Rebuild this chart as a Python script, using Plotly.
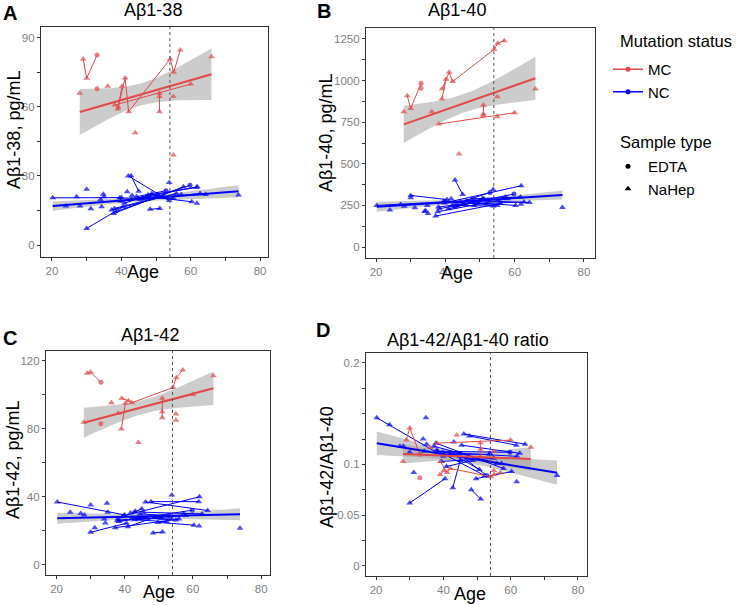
import numpy as np
import plotly.graph_objects as go

# ---------------- data ----------------
# Mutation carriers (MC)
mc_age = [29.0, 30.0, 33.0, 33.0, 28.0, 36.1, 38.1, 60.0, 39.0, 40.2, 39.1, 41.1, 42.1, 54.1, 55.1, 57.0,
          44.0, 51.0, 51.0, 51.0, 55.0, 55.0, 66.0]
mc_id = [1, 1, 1, 2, 3, 4, 5, 5, 6, 6, 7, 7, 7, 7, 7, 7, 8, 9, 9, 9, 10, 11, 12]
mc_type = ["NaHep", "NaHep", "EDTA", "EDTA", "NaHep", "NaHep", "NaHep", "NaHep", "NaHep", "NaHep", "NaHep",
           "NaHep", "NaHep", "NaHep", "NaHep", "NaHep", "NaHep", "NaHep", "NaHep", "NaHep", "NaHep", "NaHep", "NaHep"]
mc_ab38 = [80.8, 72.4, 82.5, 67.9, 65.9, 69.0, 60.8, 69.9, 59.1, 69.0, 60.0, 72.6, 57.9, 80.8, 75.0, 84.7,
           48.8, 65.9, 64.5, 57.9, 64.5, 39.1, 81.8]
mc_ab40 = [909, 833, 984, 954, 813, 813, 739, 807, 889, 1008, 951, 1050, 994, 1188, 1224, 1240,
           559, 799, 790, 853, 783, 903, 950]
mc_ab42 = [112.6, 113.2, 107.3, 83.0, 83.8, 95.3, 89.1, 100.2, 79.9, 95.0, 97.9, 96.5, 95.3, 104.2, 110.0, 114.5,
           72.0, 97.9, 90.0, 86.5, 88.7, 85.0, 111.2]
mc_ratio = [0.124, 0.136, 0.110, 0.087, 0.103, 0.117, 0.121, 0.124, 0.090, 0.094, 0.103, 0.092, 0.096, 0.088,
            0.090, 0.092, 0.129, 0.1215, 0.115, 0.1077, 0.113, 0.094, 0.117]

# Non-carriers (NC)
nc_age = [20.2, 40.0, 24.0, 27.1, 28.1, 30.0, 30.0, 40.5, 31.2, 34.0, 34.8, 35.0, 34.3, 37.2, 55.9, 37.8, 57.9,
          38.3, 59.8, 38.0, 52.3, 39.5, 55.0, 39.8, 61.9, 41.7, 42.8, 45.0, 42.0, 53.8, 40.9, 48.8, 42.9, 50.7,
          44.4, 52.9, 45.4, 62.7, 47.7, 61.7, 46.1, 64.3, 48.3, 51.1, 49.7, 60.3, 53.8, 61.8, 73.8, 57.3, 43.1]
nc_id = [1, 1, 2, 3, 4, 5, 6, 6, 7, 8, 9, 10, 11, 12, 12, 13, 13, 14, 14, 15, 15, 16, 16, 17, 17, 18, 19, 19,
         20, 20, 21, 21, 22, 22, 23, 23, 24, 24, 25, 25, 26, 26, 27, 27, 28, 28, 29, 30, 31, 32, 33]
nc_type = ["NaHep"] * 18 + ["EDTA"] + ["NaHep"] * 16 + ["EDTA"] + ["NaHep"] * 15
nc_ab38 = [20.5, 20.6, 16.9, 21.0, 16.9, 24.2, 7.2, 16.6, 15.8, 19.8, 22.1, 21.0, 16.6, 15.2, 22.4, 13.7, 25.3,
           14.4, 26.0, 15.9, 21.3, 20.4, 20.3, 19.0, 25.3, 23.1, 30.1, 23.4, 30.0, 19.3, 18.1, 22.4, 19.8, 21.7,
           21.0, 23.6, 19.8, 22.4, 21.7, 25.0, 20.5, 22.0, 15.5, 15.9, 20.7, 18.8, 27.2, 18.1, 21.7, 22.0, 21.5]
nc_ab40 = [250, 272, 222, 256, 245, 296, 310, 285, 236, 214, 250, 202, 218, 186, 262, 212, 290,
           230, 318, 240, 280, 275, 250, 265, 368, 290, 403, 316, 250, 246, 230, 270, 240, 290,
           270, 327, 260, 270, 290, 300, 280, 268, 250, 290, 265, 250, 346, 257, 238, 300, 263]
nc_ab42 = [37.0, 29.4, 30.9, 30.3, 29.4, 35.2, 19.2, 24.5, 21.9, 27.0, 36.3, 31.0, 24.7, 21.9, 27.0, 26.0, 29.0,
           25.5, 32.2, 27.0, 25.5, 28.5, 26.4, 29.0, 40.0, 30.5, 31.0, 33.0, 27.5, 27.0, 22.5, 28.0, 26.5, 27.5,
           30.0, 29.0, 31.0, 30.0, 37.2, 37.2, 37.0, 32.0, 18.8, 19.4, 25.0, 23.4, 41.1, 22.9, 21.5, 30.0, 31.5]
nc_ratio = [0.146, 0.108, 0.139, 0.118, 0.118, 0.112, 0.062, 0.086, 0.092, 0.125, 0.146, 0.120, 0.113, 0.118,
            0.101, 0.121, 0.096, 0.113, 0.112, 0.114, 0.089, 0.103, 0.106, 0.112, 0.108, 0.110, 0.077, 0.104,
            0.110, 0.110, 0.098, 0.104, 0.110, 0.095, 0.111, 0.089, 0.119, 0.111, 0.128, 0.119, 0.130, 0.120,
            0.075, 0.066, 0.086, 0.093, 0.111, 0.083, 0.089, 0.101, 0.122]

# fitted trend: value at youngest / oldest age, CI half-width at ends and minimum
mc_fit_start = [57.8, 737, 83.6, 0.1104]
mc_fit_end = [74.2, 1014, 103.8, 0.1054]
mc_ci_start = [10.0, 112, 8.8, 0.0094]
mc_ci_end = [11.2, 130, 9.8, 0.0115]
mc_ci_min = [4.8, 55, 4.0, 0.0042]
nc_fit_start = [16.9, 242, 27.4, 0.1209]
nc_fit_end = [23.4, 312, 29.8, 0.0919]
nc_ci_start = [2.0, 30, 3.2, 0.0115]
nc_ci_end = [2.6, 27, 3.5, 0.0120]
nc_ci_min = [1.0, 10, 1.3, 0.0045]

panel_titles = ["Aβ1-38", "Aβ1-40", "Aβ1-42", "Aβ1-42/Aβ1-40 ratio"]
panel_letters = ["A", "B", "C", "D"]
y_titles = ["Aβ1-38, pg/mL", "Aβ1-40, pg/mL", "Aβ1-42, pg/mL", "Aβ1-42/Aβ1-40"]
y_ticks = [[0, 15, 30, 45, 60, 75, 90],
           [0, 125, 250, 375, 500, 625, 750, 875, 1000, 1125, 1250],
           [0, 20, 40, 60, 80, 100, 120],
           [0, 0.025, 0.05, 0.075, 0.1, 0.125, 0.15, 0.175, 0.2]]
y_ticktext = [["0", "", "30", "", "60", "", "90"],
              ["0", "", "250", "", "500", "", "750", "", "1000", "", "1250"],
              ["0", "", "40", "", "80", "", "120"],
              ["0", "", "0.05", "", "0.1", "", "", "", "0.2"]]
x_ticks = [20, 30, 40, 50, 60, 70, 80]
x_ticktext = ["20", "", "40", "", "60", "", "80"]
threshold_age = 54
legend_titles = ["Mutation status", "Sample type"]

RED = "#E34848"
BLUE = "#0000FF"
FONT = "Liberation Sans"

# ---------------- layout geometry (reference pixels) ----------------
W, H = 744, 605
box_px = [(41, 268, 27, 257), (366, 595, 28, 258), (46, 270, 351, 575), (366, 587, 353, 576)]
x_ranges = [[16.83, 82.3], [17.1, 83.2], [16.9, 82.6], [17.0, 82.7]]
y_ranges = [[-5.2, 94.7], [-66, 1316], [-5.9, 125.7], [-0.0099, 0.2098]]


def px_x(p):
    return p / W


def px_y(p):
    return 1 - p / H


def band(xmin, xmax, y0, y1, h0, h1, hc):
    xs = np.linspace(xmin, xmax, 80)
    yh = y0 + (y1 - y0) * (xs - xmin) / (xmax - xmin)
    r = np.sqrt((h0 ** 2 - hc ** 2) / (h1 ** 2 - hc ** 2))
    dl = r * (xmax - xmin) / (1 + r)
    xc = xmin + dl
    k = (h0 ** 2 - hc ** 2) / dl ** 2
    hw = np.sqrt(hc ** 2 + k * (xs - xc) ** 2)
    return xs, yh, yh - hw, yh + hw


def line_xy(age, val, ids):
    xs, ys = [], []
    for sid in sorted(set(ids)):
        pts = sorted([(a, v) for a, v, i in zip(age, val, ids) if i == sid], key=lambda p: p[0])
        if len(pts) < 2:
            continue
        for a, v in pts:
            xs.append(a)
            ys.append(v)
        xs.append(None)
        ys.append(None)
    return xs, ys


fig = go.Figure()
mc_vals = [mc_ab38, mc_ab40, mc_ab42, mc_ratio]
nc_vals = [nc_ab38, nc_ab40, nc_ab42, nc_ratio]

for k in range(4):
    xa = "x" if k == 0 else f"x{k + 1}"
    ya = "y" if k == 0 else f"y{k + 1}"
    groups = [(nc_age, nc_vals[k], nc_id, nc_type, BLUE,
               (nc_fit_start[k], nc_fit_end[k], nc_ci_start[k], nc_ci_end[k], nc_ci_min[k])),
              (mc_age, mc_vals[k], mc_id, mc_type, RED,
               (mc_fit_start[k], mc_fit_end[k], mc_ci_start[k], mc_ci_end[k], mc_ci_min[k]))]
    fits = []
    for age, val, ids, typ, col, fp in groups:
        xs, yh, lo, hi = band(min(age), max(age), *fp)
        fits.append((xs, yh, col))
        fig.add_trace(go.Scatter(x=list(xs) + list(xs[::-1]), y=list(hi) + list(lo[::-1]), fill="toself",
                                 fillcolor="rgba(153,153,153,0.5)", line=dict(width=0), mode="lines",
                                 hoverinfo="skip", showlegend=False, xaxis=xa, yaxis=ya))
    for age, val, ids, typ, col, fp in groups:
        lx, ly = line_xy(age, val, ids)
        fig.add_trace(go.Scatter(x=lx, y=ly, mode="lines", line=dict(color=col, width=1),
                                 showlegend=False, xaxis=xa, yaxis=ya, hoverinfo="skip"))
        syms = ["circle" if t == "EDTA" else "triangle-up" for t in typ]
        sizes = [5 if t == "EDTA" else 6 for t in typ]
        fig.add_trace(go.Scatter(x=age, y=val, mode="markers",
                                 marker=dict(color=col, symbol=syms, size=sizes, line=dict(width=0)),
                                 showlegend=False, xaxis=xa, yaxis=ya))
    for xs, yh, col in fits:
        fig.add_trace(go.Scatter(x=xs, y=yh, mode="lines", line=dict(color=col, width=2),
                                 showlegend=False, xaxis=xa, yaxis=ya, hoverinfo="skip"))
    fig.add_shape(type="line", x0=threshold_age, x1=threshold_age, y0=0, y1=1, xref=xa, yref=f"{ya} domain",
                  line=dict(color="#555555", width=1, dash="dot"))

# legend entries
fig.add_trace(go.Scatter(x=[None], y=[None], mode="lines+markers", name="MC",
                         line=dict(color=RED, width=1.5), marker=dict(color=RED, size=5, symbol="circle"),
                         legendgroup="mut"))
fig.add_trace(go.Scatter(x=[None], y=[None], mode="lines+markers", name="NC",
                         line=dict(color=BLUE, width=1.5), marker=dict(color=BLUE, size=5, symbol="circle"),
                         legendgroup="mut"))
fig.add_trace(go.Scatter(x=[None], y=[None], mode="markers", name="EDTA",
                         marker=dict(color="black", size=5, symbol="circle"),
                         legendgroup="samp"))
fig.add_trace(go.Scatter(x=[None], y=[None], mode="markers", name="NaHep",
                         marker=dict(color="black", size=6, symbol="triangle-up"),
                         legendgroup="samp"))

layout = dict(width=W, height=H, margin=dict(l=0, r=0, t=0, b=0), paper_bgcolor="white",
              plot_bgcolor="white", font=dict(family=FONT, color="black"),
              legend=dict(x=px_x(608), y=px_y(53), xanchor="left", yanchor="top", font=dict(size=15),
                          tracegroupgap=52, bgcolor="rgba(0,0,0,0)", itemwidth=30, traceorder="grouped"))
for k in range(4):
    sfx = "" if k == 0 else str(k + 1)
    l, r, t, b = box_px[k]
    common = dict(ticks="outside", ticklen=3, tickcolor="#333333", tickwidth=1, showgrid=False, zeroline=False,
                  showline=True, mirror=True, linecolor="#333333", linewidth=1.2,
                  tickfont=dict(size=11.5, color="#7F7F7F"))
    layout["xaxis" + sfx] = dict(domain=[px_x(l), px_x(r)], range=x_ranges[k], tickmode="array",
                                 tickvals=x_ticks, ticktext=x_ticktext, anchor="y" + sfx, **common)
    layout["yaxis" + sfx] = dict(domain=[px_y(b), px_y(t)], range=y_ranges[k], tickmode="array",
                                 tickvals=y_ticks[k], ticktext=y_ticktext[k], anchor="x" + sfx, **common)
fig.update_layout(**layout)

letter_pos = [(10, 13), (324, 11), (10, 338), (323, 330)]
title_pos = [(153, 10), (457, 10), (150, 335), (468, 340)]
ytitle_pos = [(14, 130), (326, 133), (13, 460), (327, 467)]
xtitle_pos = [(143, 272), (457, 273), (159, 592), (470, 594)]
legend_title_pos = [(618, 41), (618, 142)]
for k in range(4):
    fig.add_annotation(x=px_x(letter_pos[k][0]), y=px_y(letter_pos[k][1]), xref="paper", yref="paper",
                       xanchor="center", yanchor="middle",
                       text=f"<b>{panel_letters[k]}</b>", showarrow=False, font=dict(size=20, family=FONT))
    fig.add_annotation(x=px_x(title_pos[k][0]), y=px_y(title_pos[k][1]), xref="paper", yref="paper",
                       xanchor="center", yanchor="middle",
                       text=panel_titles[k], showarrow=False, font=dict(size=18, family=FONT))
    fig.add_annotation(x=px_x(ytitle_pos[k][0]), y=px_y(ytitle_pos[k][1]), xref="paper", yref="paper",
                       xanchor="center", yanchor="middle",
                       text=y_titles[k], textangle=-90, showarrow=False, font=dict(size=18, family=FONT))
    fig.add_annotation(x=px_x(xtitle_pos[k][0]), y=px_y(xtitle_pos[k][1]), xref="paper", yref="paper",
                       xanchor="center", yanchor="middle",
                       text="Age", showarrow=False, font=dict(size=18, family=FONT))
for txt, (lx, ly) in zip(legend_titles, legend_title_pos):
    fig.add_annotation(x=px_x(lx), y=px_y(ly), xref="paper", yref="paper", xanchor="left", yanchor="middle",
                       text=txt, showarrow=False, font=dict(size=16.5, family=FONT))

fig.write_html("out.html", config={"displayModeBar": False},
               post_script="document.body.style.margin='0px';document.body.style.overflow='hidden';")
